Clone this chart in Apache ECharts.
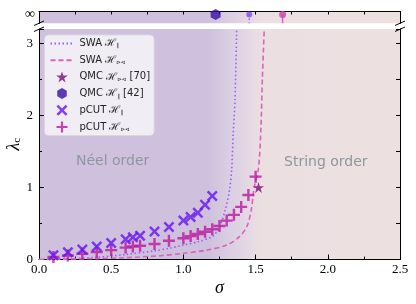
<!DOCTYPE html>
<html>
<head>
<meta charset="utf-8">
<script src="https://cdn.jsdelivr.net/npm/echarts@6/dist/echarts.min.js"></script>
<style>html,body{margin:0;padding:0;background:#fff}#c{width:416px;height:304px}</style>
</head>
<body>
<div id="c"></div>
<script>
// ---- data ----
const swaParX = [0, 0.2, 0.4, 0.6, 0.8, 0.9, 1.0, 1.1, 1.2, 1.25, 1.29, 1.32, 1.334, 1.345, 1.357, 1.369];
const swaParY = [0, 0.01, 0.03, 0.07, 0.12, 0.155, 0.2, 0.245, 0.32, 0.45, 0.69, 0.97, 1.24, 1.75, 2.2, 3.2];
const swaBowX = [0, 0.4, 0.6, 0.84, 1.0, 1.16, 1.3, 1.39, 1.44, 1.47, 1.49, 1.52, 1.537, 1.547, 1.56];
const swaBowY = [0, 0.012, 0.025, 0.053, 0.086, 0.13, 0.2, 0.32, 0.46, 0.69, 1.0, 1.27, 1.83, 2.52, 3.2];
const pcutParX = [0.1, 0.2, 0.3, 0.4, 0.5, 0.6, 0.65, 0.7, 0.8, 0.9, 1.0, 1.05, 1.1, 1.15, 1.2];
const pcutParY = [0.06, 0.1, 0.14, 0.18, 0.23, 0.28, 0.31, 0.33, 0.39, 0.45, 0.54, 0.59, 0.65, 0.76, 0.88];
const pcutBowX = [0.1, 0.2, 0.3, 0.4, 0.5, 0.6, 0.65, 0.7, 0.8, 0.9, 1.0, 1.05, 1.1, 1.15, 1.2, 1.25, 1.3, 1.35, 1.4, 1.45, 1.5];
const pcutBowY = [0.035, 0.055, 0.08, 0.105, 0.13, 0.165, 0.18, 0.19, 0.215, 0.26, 0.295, 0.325, 0.355, 0.385, 0.42, 0.465, 0.54, 0.62, 0.73, 0.895, 1.15];
const qmcBowX = [1.52];
const qmcBowY = [1.0];
// points at lambda_c = infinity (top panel)
const qmcParInfX = [1.223];
const swaParInfX = [1.456];
const swaBowInfX = [1.687];
const xTicks = ['0.0', '0.5', '1.0', '1.5', '2.0', '2.5'];
const yTicks = ['0', '1', '2', '3'];
const infLabel = '∞';
const regionLabels = ['Néel order', 'String order'];

const zip = (xs, ys) => xs.map((x, i) => [x, ys[i]]);
const INF_Y = 0.75;

const C_DOT = '#9a5cf5', C_DASH = '#d863bd', C_X = '#6514f2', C_PLUS = '#b8189f',
      C_STAR = '#7d0c76', C_HEX = '#3a0ca3';

const P_X = 'path://M1.6,0 L5,3.4 L8.4,0 L10,1.6 L6.6,5 L10,8.4 L8.4,10 L5,6.6 L1.6,10 L0,8.4 L3.4,5 L0,1.6 Z';
const P_PLUS = 'path://M4,0 H6 V4 H10 V6 H6 V10 H4 V6 H0 V4 H4 Z';
const P_STAR = 'path://M10,0 L12.245,6.91 L19.51,6.91 L13.63,11.18 L15.88,18.09 L10,13.82 L4.12,18.09 L6.37,11.18 L0.49,6.91 L7.755,6.91 Z';
const P_HEX = 'path://M10,0 L18.66,5 L18.66,15 L10,20 L1.34,15 L1.34,5 Z';

const bg = new echarts.graphic.LinearGradient(0, 0, 1, 0, [
  {offset: 0, color: '#cfc1dd'}, {offset: 0.47, color: '#cfc1dd'},
  {offset: 0.53, color: '#dacfe3'}, {offset: 0.585, color: '#e6d9e3'},
  {offset: 0.615, color: '#ecdfe2'}, {offset: 1, color: '#ece0e0'}
]);

const legendNames = {
  swaPar: 'SWA {h|ℋ}{s|∥}',
  swaBow: 'SWA {h|ℋ}{s|⊳⊲}',
  qmcBow: 'QMC {h|ℋ}{s|⊳⊲} [70]',
  qmcPar: 'QMC {h|ℋ}{s|∥} [42]',
  pcutPar: 'pCUT {h|ℋ}{s|∥}',
  pcutBow: 'pCUT {h|ℋ}{s|⊳⊲}'
};

const serif = 'Liberation Serif';
const chart = echarts.init(document.getElementById('c'), null, {renderer: 'canvas'});
chart.setOption({
  animation: false,
  grid: [
    {left: 39, right: 16, top: 29, height: 230.5, show: true, backgroundColor: bg, borderWidth: 0,
     containLabel: false, outerBoundsMode: 'none'},
    {left: 39, right: 16, top: 11.5, height: 11.8, show: true, backgroundColor: bg, borderWidth: 0,
     containLabel: false, outerBoundsMode: 'none'}
  ],
  xAxis: [
    {gridIndex: 0, type: 'value', min: 0, max: 2.5, interval: 0.5, position: 'bottom',
     axisLine: {show: true, onZero: false, lineStyle: {color: '#000', width: 1}},
     axisTick: {show: true, inside: true, length: 5, lineStyle: {color: '#000'}},
     minorTick: {show: true, splitNumber: 2, length: 3, lineStyle: {color: '#000'}},
     splitLine: {show: false},
     axisLabel: {color: '#000', fontFamily: serif, fontSize: 13, margin: 4,
       formatter: (v) => xTicks[Math.round(v / 0.5)]},
     name: 'σ', nameLocation: 'middle', nameGap: 20, nameMoveOverlap: false,
     nameTextStyle: {fontFamily: serif, fontStyle: 'italic', fontSize: 18, color: '#000'}},
    {gridIndex: 1, type: 'value', min: 0, max: 2.5, interval: 0.25, position: 'top',
     axisLine: {show: true, onZero: false, lineStyle: {color: '#000', width: 1}},
     axisTick: {show: true, inside: true, length: 3, lineStyle: {color: '#000'}},
     splitLine: {show: false}, axisLabel: {show: false}}
  ],
  yAxis: [
    {gridIndex: 0, type: 'value', min: 0, max: 3.2, interval: 1, position: 'left',
     axisLine: {show: true, onZero: false, lineStyle: {color: '#000', width: 1}},
     axisTick: {show: true, inside: true, length: 5, lineStyle: {color: '#000'}},
     minorTick: {show: true, splitNumber: 2, length: 3, lineStyle: {color: '#000'}},
     splitLine: {show: false},
     axisLabel: {color: '#000', fontFamily: serif, fontSize: 13, margin: 6,
       formatter: (v) => (Math.abs(v - Math.round(v)) < 1e-6 ? (yTicks[Math.round(v)] || '') : '')},
     name: '{l|λ}{c|c}', nameLocation: 'middle', nameGap: 16, nameRotate: 90, nameMoveOverlap: false,
     nameTextStyle: {color: '#000', rich: {
       l: {fontFamily: serif, fontStyle: 'italic', fontSize: 18, color: '#000'},
       c: {fontFamily: serif, fontSize: 11, color: '#000', padding: [6, 0, 0, 0]}}}},
    {gridIndex: 0, type: 'value', min: 0, max: 3.2, interval: 0.5, position: 'right',
     axisLine: {show: true, onZero: false, lineStyle: {color: '#000', width: 1}},
     axisTick: {show: true, inside: true, length: 4, lineStyle: {color: '#000'}},
     splitLine: {show: false}, axisLabel: {show: false}},
    {gridIndex: 1, type: 'value', min: 0, max: 1, interval: 0.25, position: 'left',
     axisLine: {show: true, onZero: false, lineStyle: {color: '#000', width: 1}},
     axisTick: {show: false}, splitLine: {show: false},
     axisLabel: {color: '#000', fontFamily: serif, fontSize: 14, margin: 4,
       formatter: (v) => Math.abs(v - INF_Y) < 1e-6 ? infLabel : ''}},
    {gridIndex: 1, type: 'value', min: 0, max: 1, position: 'right',
     axisLine: {show: true, onZero: false, lineStyle: {color: '#000', width: 1}},
     axisTick: {show: false}, splitLine: {show: false}, axisLabel: {show: false}}
  ],
  legend: {
    data: [{name: 'swaPar', itemStyle: {opacity: 0}}, {name: 'swaBow', itemStyle: {opacity: 0}},
           'qmcBow', 'qmcPar', 'pcutPar', 'pcutBow'],
    orient: 'vertical', left: 44.5, top: 35, padding: [3, 4, 3, 5],
    itemWidth: 23, itemHeight: 11, itemGap: 5.7,
    backgroundColor: 'rgba(247,244,248,0.85)', borderColor: '#ddd6e0', borderWidth: 1, borderRadius: 4,
    formatter: (n) => legendNames[n],
    textStyle: {fontFamily: 'DejaVu Sans', fontSize: 10, color: '#222', padding: [0, 0, 0, 1],
      rich: {
        h: {fontFamily: 'DejaVu Serif', fontSize: 10.5, color: '#222'},
        s: {fontFamily: 'DejaVu Sans', fontSize: 5.5, color: '#222', padding: [5, 0, 0, 0]}
      }}
  },
  graphic: [
    {type: 'text', left: 76, top: 154, silent: true,
     style: {text: regionLabels[0], font: '14px "DejaVu Sans"', fill: '#8d979c'}},
    {type: 'text', left: 284, top: 155, silent: true,
     style: {text: regionLabels[1], font: '14px "DejaVu Sans"', fill: '#8d979c'}},
    {type: 'line', shape: {x1: 34, y1: 25.5, x2: 44, y2: 21}, style: {stroke: '#000', lineWidth: 1}},
    {type: 'line', shape: {x1: 34, y1: 31.5, x2: 44, y2: 27}, style: {stroke: '#000', lineWidth: 1}},
    {type: 'line', shape: {x1: 395, y1: 25.5, x2: 405, y2: 21}, style: {stroke: '#000', lineWidth: 1}},
    {type: 'line', shape: {x1: 395, y1: 31.5, x2: 405, y2: 27}, style: {stroke: '#000', lineWidth: 1}}
  ],
  series: [
    {name: 'swaPar', type: 'line', xAxisIndex: 0, yAxisIndex: 0, data: zip(swaParX, swaParY),
     symbol: 'none', smooth: 0.3, clip: true, color: C_DOT,
     lineStyle: {color: C_DOT, width: 1.6, type: [1.5, 2.5]}, z: 2},
    {name: 'swaBow', type: 'line', xAxisIndex: 0, yAxisIndex: 0, data: zip(swaBowX, swaBowY),
     symbol: 'none', smooth: 0.3, clip: true, color: C_DASH,
     lineStyle: {color: C_DASH, width: 1.6, type: [5, 3]}, z: 2},
    {name: 'qmcBow', type: 'scatter', xAxisIndex: 0, yAxisIndex: 0, data: zip(qmcBowX, qmcBowY),
     symbol: P_STAR, symbolSize: 11, itemStyle: {color: C_STAR}, z: 5},
    {name: 'qmcPar', type: 'scatter', xAxisIndex: 1, yAxisIndex: 2, data: qmcParInfX.map(x => [x, INF_Y]),
     symbol: P_HEX, symbolSize: [10, 11], itemStyle: {color: C_HEX}, z: 5},
    {name: 'pcutPar', type: 'scatter', xAxisIndex: 0, yAxisIndex: 0, data: zip(pcutParX, pcutParY),
     symbol: P_X, symbolSize: 11, itemStyle: {color: C_X}, z: 4},
    {name: 'pcutBow', type: 'scatter', xAxisIndex: 0, yAxisIndex: 0, data: zip(pcutBowX, pcutBowY),
     symbol: P_PLUS, symbolSize: 12, itemStyle: {color: C_PLUS}, z: 3},
    // top panel: SWA divergence points at infinity
    {name: 'swaParInf', type: 'line', xAxisIndex: 1, yAxisIndex: 2,
     data: [[swaParInfX[0], INF_Y], [swaParInfX[0], 0]], symbol: 'none',
     lineStyle: {color: C_DOT, width: 1.5, type: [1.5, 2.5]}, z: 3},
    {name: 'swaBowInf', type: 'line', xAxisIndex: 1, yAxisIndex: 2,
     data: [[swaBowInfX[0], INF_Y], [swaBowInfX[0], 0]], symbol: 'none',
     lineStyle: {color: C_DASH, width: 1.5}, z: 3},
    {name: 'swaParInfPt', type: 'scatter', xAxisIndex: 1, yAxisIndex: 2,
     data: swaParInfX.map(x => [x, INF_Y]), symbol: 'circle', symbolSize: 6,
     itemStyle: {color: '#8a4af6'}, z: 5},
    {name: 'swaBowInfPt', type: 'scatter', xAxisIndex: 1, yAxisIndex: 2,
     data: swaBowInfX.map(x => [x, INF_Y]), symbol: 'circle', symbolSize: 7,
     itemStyle: {color: '#d040ae'}, z: 5}
  ]
});
</script>
</body>
</html>
